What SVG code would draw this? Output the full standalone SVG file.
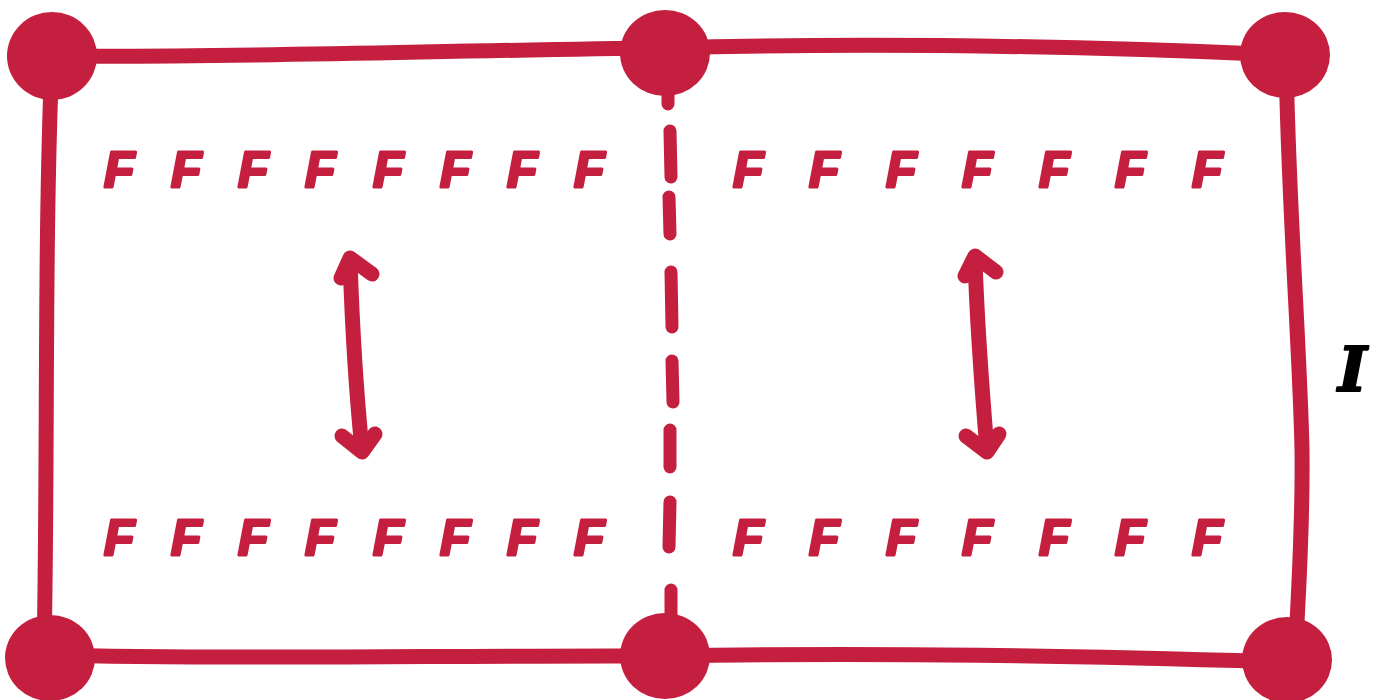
<svg xmlns="http://www.w3.org/2000/svg" width="1387" height="700" viewBox="0 0 1387 700">
<style>
.ln{fill:none;stroke:#c51f3f;stroke-width:15;stroke-linecap:round;stroke-linejoin:round}
.dot{fill:#c51f3f}
.f{font-family:"Liberation Sans",Arial,sans-serif;font-weight:bold;font-style:italic;font-size:50px;fill:#c51f3f;stroke:#c51f3f;stroke-width:3;stroke-linejoin:round}
.lbl{font-family:"DejaVu Serif",serif;font-weight:bold;font-style:italic;font-size:62px;fill:#000;stroke:#000;stroke-width:2;stroke-linejoin:round}
</style>
<rect width="1387" height="700" fill="#fff"/>
<g id="connectors">
<path class="ln" d="M52,56 C250,58 450,50 665,48"/>
<path class="ln" d="M665,48 C880,42 1080,46 1285,55"/>
<path class="ln" d="M52,56 C44,250 48,450 44,655"/>
<path class="ln" d="M1286,56 C1288,200 1300,350 1302,450 C1303,530 1298,600 1295,660"/>
<path class="ln" d="M44,655 C250,660 450,655 665,656"/>
<path class="ln" d="M665,656 C880,652 1080,656 1287,662"/>
<path class="ln" d="M668,92 L668,104 M670,131 L671,177 M669,197 L670,234 M671,272 L672,327 M672,361 L673,402 M670,430 L670,467 M670,502 L669,547 M671,590 L671,615" style="stroke-width:13"/>
<g id="arrow-left">
<path class="ln" d="M350,260 C352,320 356,390 362,450"/>
<path class="ln" d="M341,278 L350,258 L372,274"/>
<path class="ln" d="M342,436 L362,452 L375,434"/>
</g>
<g id="arrow-right">
<path class="ln" d="M975,260 C977,320 982,390 987,450"/>
<path class="ln" d="M965,276 L975,256 L996,272"/>
<path class="ln" d="M966,436 L987,452 L999,434"/>
</g>
</g>
<g id="node-tl"><ellipse class="dot" cx="52" cy="56" rx="45" ry="44"/></g>
<g id="node-tm"><ellipse class="dot" cx="665" cy="53" rx="45" ry="43"/></g>
<g id="node-tr"><ellipse class="dot" cx="1285" cy="55" rx="45" ry="43"/></g>
<g id="node-bl"><ellipse class="dot" cx="50" cy="658" rx="45" ry="43"/></g>
<g id="node-bm"><ellipse class="dot" cx="665" cy="656" rx="45" ry="43"/></g>
<g id="node-br"><ellipse class="dot" cx="1287" cy="660" rx="45" ry="43"/></g>
<g id="row-top-left">
<text class="f" x="104" y="187">F</text><text class="f" x="171" y="187">F</text><text class="f" x="238" y="187">F</text><text class="f" x="305" y="187">F</text><text class="f" x="373" y="187">F</text><text class="f" x="440" y="187">F</text><text class="f" x="507" y="187">F</text><text class="f" x="574" y="187">F</text>
</g>
<g id="row-top-right">
<text class="f" x="733" y="187">F</text><text class="f" x="809" y="187">F</text><text class="f" x="886" y="187">F</text><text class="f" x="962" y="187">F</text><text class="f" x="1039" y="187">F</text><text class="f" x="1115" y="187">F</text><text class="f" x="1192" y="187">F</text>
</g>
<g id="row-bottom-left">
<text class="f" x="104" y="555">F</text><text class="f" x="171" y="555">F</text><text class="f" x="238" y="555">F</text><text class="f" x="305" y="555">F</text><text class="f" x="373" y="555">F</text><text class="f" x="440" y="555">F</text><text class="f" x="507" y="555">F</text><text class="f" x="574" y="555">F</text>
</g>
<g id="row-bottom-right">
<text class="f" x="733" y="555">F</text><text class="f" x="809" y="555">F</text><text class="f" x="886" y="555">F</text><text class="f" x="962" y="555">F</text><text class="f" x="1039" y="555">F</text><text class="f" x="1115" y="555">F</text><text class="f" x="1192" y="555">F</text>
</g>
<g id="label-I"><text class="lbl" x="1338" y="391">I</text></g>
</svg>
